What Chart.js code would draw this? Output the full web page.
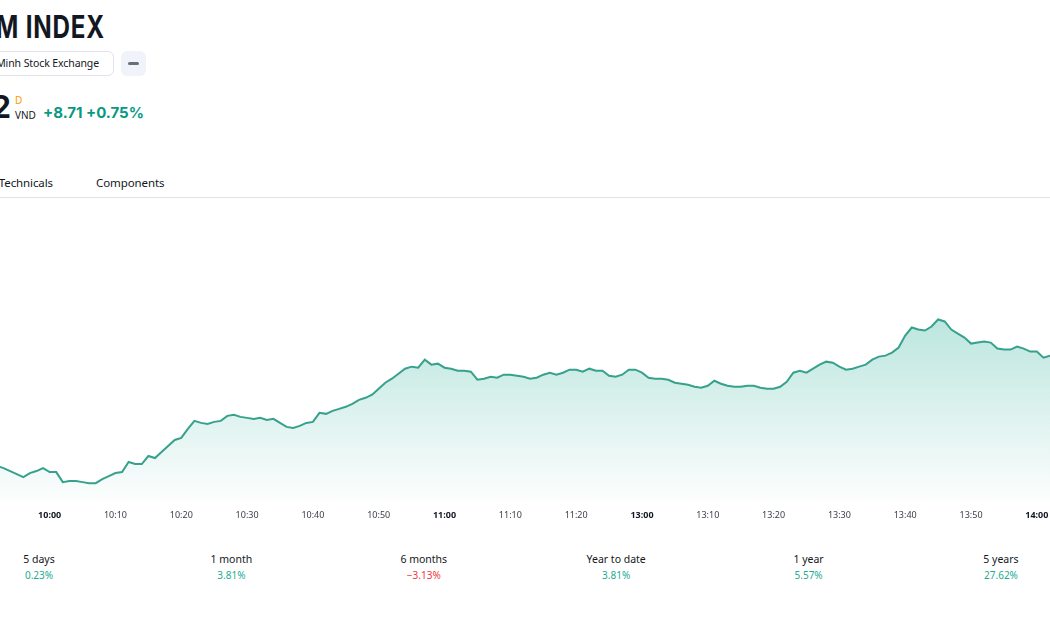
<!DOCTYPE html>
<html>
<head>
<meta charset="utf-8">
<script src="https://cdn.jsdelivr.net/npm/chart.js@4.4.1/dist/chart.umd.min.js"></script>
<style>
    body { margin: 0; background: #fff; }
    #page { position: relative; width: 1050px; height: 630px; overflow: hidden; font-family: "Noto Sans", sans-serif; color: #131722; }
    .abs { position: absolute; white-space: nowrap; }
    #title { right: 945px; top: 10px; font: 700 31px Inter, sans-serif; line-height: 34px; letter-spacing: 1px; transform: scaleX(0.78); transform-origin: right center; }
    #exchange { left: -200px; top: 51px; width: 298px; height: 23px; border: 1px solid #e0e3eb; border-radius: 6px; text-align: right; padding-right: 14px; font-size: 10.5px; line-height: 23px; letter-spacing: -0.1px; }
    #minus { left: 121px; top: 51px; width: 25px; height: 25px; border-radius: 6px; background: #f0f3fa; }
    #minus div { position: absolute; left: 7px; top: 11px; width: 11px; height: 3px; border-radius: 2px; background: #6a6d78; }
    #price { right: 1039px; top: 90px; font: 700 31px Inter, sans-serif; line-height: 34px; }
    #dflag { left: 15px; top: 93px; font-size: 10px; line-height: 14px; color: #ff9800; }
    #currency { left: 15px; top: 108px; font-size: 10px; line-height: 14px; }
    #change { left: 43px; top: 103px; font: 700 15px Inter, sans-serif; line-height: 20px; color: #089981; }
    .tab { top: 175px; font-size: 11.5px; line-height: 16px; letter-spacing: -0.1px; }
    #sep { left: 0; top: 197px; width: 1050px; height: 1px; background: #e0e3eb; }
    #chartBox { position: absolute; left: -3px; top: 198px; width: 1053px; height: 332px; }
    .perf { width: 160px; text-align: center; }
    .perf .lbl { font-size: 10.5px; line-height: 16px; }
    .perf .val { font-size: 10px; line-height: 16px; color: #22ab94; }
    .perf .neg { color: #f23645; }
</style>
</head>
<body>
<div id="page">
    <div id="title" class="abs">VIETNAM INDEX</div>
    <div id="exchange" class="abs">Ho Chi Minh Stock Exchange</div>
    <div id="minus" class="abs"><div></div></div>
    <div id="price" class="abs">1,170.12</div>
    <div id="dflag" class="abs">D</div>
    <div id="currency" class="abs">VND</div>
    <div id="change" class="abs">+8.71 +0.75%</div>
    <div class="abs tab" style="right:997px">Technicals</div>
    <div class="abs tab" style="left:96px">Components</div>
    <div id="sep" class="abs"></div>
    <div id="chartBox"><canvas id="chart"></canvas></div>
    <div id="perfRow"></div>
</div>

<script>
// trading sessions shown on the intraday chart (lunch break is skipped)
const sessions = [['09:52', '11:29'], ['13:00', '14:02']]

// index level, one point per minute
const morningValues = [
    1159.1, 1158.9, 1158.6, 1158.3, 1158.0, 1158.4, 1158.6, 1158.9, 1158.5, 1158.5,
    1157.5, 1157.6, 1157.6, 1157.5, 1157.4, 1157.4, 1157.8, 1158.1, 1158.4, 1158.5,
    1159.5, 1159.3, 1159.3, 1160.1, 1159.9, 1160.5, 1161.1, 1161.7, 1161.9, 1162.8,
    1163.6, 1163.4, 1163.3, 1163.5, 1163.6, 1164.1, 1164.2, 1164.0, 1163.9, 1163.8,
    1163.9, 1163.7, 1163.8, 1163.4, 1163.0, 1162.9, 1163.1, 1163.4, 1163.5, 1164.4,
    1164.3, 1164.6, 1164.8, 1165.0, 1165.3, 1165.7, 1165.9, 1166.2, 1166.8, 1167.4,
    1167.8, 1168.3, 1168.8, 1169.0, 1168.9, 1169.7, 1169.2, 1169.3, 1168.9, 1168.8,
    1168.6, 1168.6, 1168.5, 1167.7, 1167.8, 1168.0, 1167.9, 1168.2, 1168.2, 1168.1,
    1168.0, 1167.8, 1167.9, 1168.2, 1168.4, 1168.2, 1168.4, 1168.7, 1168.7, 1168.5,
    1168.8, 1168.6, 1168.6, 1168.1, 1168.0, 1168.2, 1168.7, 1168.7
]
const afternoonValues = [
    1168.4, 1167.9, 1167.8, 1167.8, 1167.7, 1167.4, 1167.3, 1167.2, 1167.0, 1166.9,
    1167.1, 1167.6, 1167.3, 1167.1, 1167.0, 1167.0, 1167.1, 1167.1, 1166.9, 1166.8,
    1166.8, 1167.0, 1167.5, 1168.4, 1168.6, 1168.4, 1168.8, 1169.2, 1169.5, 1169.4,
    1169.0, 1168.7, 1168.8, 1169.0, 1169.2, 1169.7, 1170.0, 1170.1, 1170.4, 1170.9,
    1172.1, 1172.9, 1172.7, 1172.6, 1173.0, 1173.7, 1173.5, 1172.7, 1172.3, 1171.9,
    1171.3, 1171.4, 1171.5, 1171.4, 1170.8, 1170.7, 1170.7, 1171.0, 1170.8, 1170.5,
    1170.5, 1169.9, 1170.1
]

// time axis labels
const tickLabels = ['10:00', '10:10', '10:20', '10:30', '10:40', '10:50', '11:00', '11:10', '11:20',
    '13:00', '13:10', '13:20', '13:30', '13:40', '13:50', '14:00']

// performance row under the chart
const perfPeriods = ['5 days', '1 month', '6 months', 'Year to date', '1 year', '5 years']
const perfValues = [0.23, 3.81, -3.13, 3.81, 5.57, 27.62]

const lineColor = '#36a18c'

function minutesBetween(start, end) {
    let toMin = (t) => parseInt(t.slice(0, 2)) * 60 + parseInt(t.slice(3))
    let out = []
    for (let m = toMin(start); m <= toMin(end); m++) {
        out.push(String(Math.floor(m / 60)).padStart(2, '0') + ':' + String(m % 60).padStart(2, '0'))
    }
    return out
}

let times = []
sessions.forEach((s) => { times = times.concat(minutesBetween(s[0], s[1])) })
let values = morningValues.concat(afternoonValues)

// fill fades out from the top of the line to the bottom of the plot
function areaGradient(context) {
    let chart = context.chart
    let area = chart.chartArea
    if (!area) return null
    let top = chart.scales.y.getPixelForValue(Math.max(...values))
    let g = chart.ctx.createLinearGradient(0, top, 0, area.bottom)
    g.addColorStop(0, 'rgba(34,171,148,0.30)')
    g.addColorStop(1, 'rgba(34,171,148,0.01)')
    return g
}

let isHour = (label) => label && label.endsWith(':00')

new Chart(document.getElementById('chart'), {
    type: 'line',
    data: {
        labels: times,
        datasets: [{
            data: values,
            borderColor: lineColor,
            borderWidth: 2,
            backgroundColor: areaGradient,
            fill: 'start',
            pointRadius: 0,
            tension: 0
        }]
    },
    options: {
        responsive: true,
        maintainAspectRatio: false,
        animation: false,
        layout: { padding: { top: 2, left: 0, right: 0, bottom: 0 } },
        plugins: { legend: { display: false }, tooltip: { enabled: false } },
        scales: {
            x: {
                offset: false,
                grid: { display: false, drawTicks: false },
                border: { display: false },
                afterBuildTicks: (axis) => {
                    axis.ticks = axis.ticks.filter((t) => tickLabels.includes(times[t.value]))
                },
                afterFit: (axis) => { axis.paddingLeft = 0; axis.paddingRight = 0 },
                ticks: {
                    autoSkip: false,
                    maxRotation: 0,
                    padding: 9,
                    color: (c) => isHour(c.tick && c.tick.label) ? '#131722' : '#3b3e47',
                    font: (c) => ({ family: 'Noto Sans', size: 9, weight: isHour(c.tick && c.tick.label) ? 'bold' : 'normal' })
                }
            },
            y: {
                display: false,
                min: 1155.6,
                max: 1185.6
            }
        }
    }
})

// performance row
let row = document.getElementById('perfRow')
perfPeriods.forEach((p, i) => {
    let cell = document.createElement('div')
    cell.className = 'abs perf'
    cell.style.left = (39 + i * 192.4 - 80) + 'px'
    cell.style.top = '551px'
    let v = perfValues[i]
    let txt = (v < 0 ? '\u2212' + Math.abs(v).toFixed(2) : v.toFixed(2)) + '%'
    cell.innerHTML = `<div class="lbl">${p}</div><div class="val ${v < 0 ? 'neg' : ''}">${txt}</div>`
    row.append(cell)
})
</script>
</body>
</html>
